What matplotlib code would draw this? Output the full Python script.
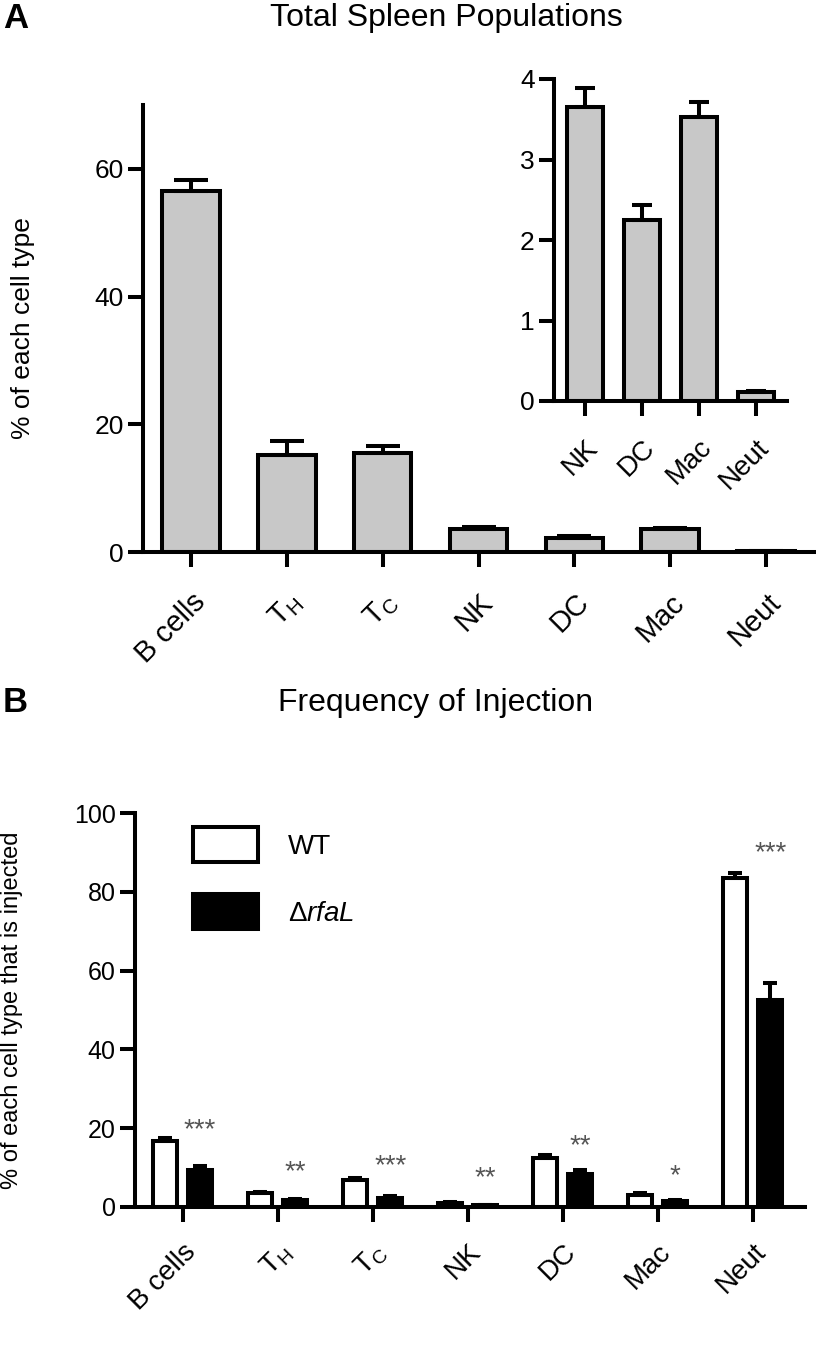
import numpy as np
import matplotlib
matplotlib.use("Agg")
import matplotlib.pyplot as plt
from matplotlib.patches import Patch

plt.rcParams['font.family'] = ['Liberation Sans', 'DejaVu Sans']
plt.rcParams['mathtext.fontset'] = 'custom'
plt.rcParams['mathtext.rm'] = 'Liberation Sans'
plt.rcParams['mathtext.it'] = 'Liberation Sans:italic'

# ---- data ----
cells = ['B cells', r'T$_\mathregular{H}$', r'T$_\mathregular{C}$', 'NK', 'DC', 'Mac', 'Neut']
spleen_pct = [56.5, 15.2, 15.5, 3.65, 2.25, 3.53, 0.11]
spleen_err = [1.8, 2.2, 1.1, 0.24, 0.18, 0.18, 0.02]

inset_cells = ['NK', 'DC', 'Mac', 'Neut']
inset_pct = [3.65, 2.25, 3.53, 0.11]
inset_err = [0.24, 0.18, 0.18, 0.02]

wt_inj = [16.8, 3.5, 6.8, 1.0, 12.5, 3.0, 83.5]
wt_err = [0.8, 0.4, 0.6, 0.2, 0.8, 0.6, 1.2]
ko_inj = [9.5, 1.7, 2.4, 0.4, 8.5, 1.5, 52.5]
ko_err = [0.9, 0.3, 0.3, 0.1, 1.0, 0.3, 4.3]
sig = ['***', '**', '***', '**', '**', '*', '***']
sig_y = [21.5, 11.0, 12.5, 9.4, 17.5, 10.0, 92.0]

W, H = 816, 1372
LW = 2.9
GREY = '#c8c8c8'


def box(l, t, r, b):
    return [l / W, 1 - b / H, (r - l) / W, (b - t) / H]


def style(ax, fs, xfs, xpad):
    for s in ['top', 'right']:
        ax.spines[s].set_visible(False)
    for s in ['left', 'bottom']:
        ax.spines[s].set_linewidth(LW)
    ax.tick_params(width=LW, length=11, labelsize=fs, pad=3)
    ax.tick_params(axis='x', pad=xpad, labelsize=xfs)


fig = plt.figure(figsize=(W / 100, H / 100), dpi=100)

# ---- panel A ----
axA = fig.add_axes(box(143, 105, 814, 552))
x = np.arange(len(cells))
axA.bar(x, spleen_pct, width=0.6, color=GREY, edgecolor='black', linewidth=LW,
        yerr=[np.zeros(len(x)), spleen_err],
        error_kw=dict(elinewidth=LW, capsize=12, capthick=LW, ecolor='black'))
axA.set_xlim(-0.5, 6.5)
axA.set_ylim(0, 70)
axA.set_yticks([0, 20, 40, 60])
axA.set_xticks(x)
axA.set_xticklabels(cells, rotation=45, ha='right', va='top', rotation_mode='anchor')
style(axA, 19, 21, 15)
axA.set_ylabel('% of each cell type', fontsize=19)
axA.yaxis.set_label_coords(-0.161, 0.5)

axI = fig.add_axes(box(554, 79, 787, 401))
xi = np.arange(len(inset_cells))
axI.bar(xi, inset_pct, width=0.63, color=GREY, edgecolor='black', linewidth=LW,
        yerr=[np.zeros(len(xi)), inset_err],
        error_kw=dict(elinewidth=LW, capsize=7, capthick=LW, ecolor='black'))
axI.set_xlim(-0.55, 3.55)
axI.set_ylim(0, 4)
axI.set_yticks([0, 1, 2, 3, 4])
axI.set_xticks(xi)
axI.set_xticklabels(inset_cells, rotation=45, ha='right', va='top', rotation_mode='anchor')
style(axI, 19, 20, 13)
axI.set_facecolor('none')

fig.text(3 / W, 1 - 28 / H, 'A', fontsize=25, weight='bold', va='baseline')
fig.text(446 / W, 1 - 26 / H, 'Total Spleen Populations', fontsize=23, ha='center', va='baseline')

# ---- panel B ----
axB = fig.add_axes(box(135, 813, 805, 1207))
off, bw = 0.185, 0.25
axB.bar(x - off, wt_inj, width=bw, color='white', edgecolor='black', linewidth=LW,
        yerr=[np.zeros(len(x)), wt_err],
        error_kw=dict(elinewidth=LW, capsize=5, capthick=LW, ecolor='black'))
axB.bar(x + off, ko_inj, width=bw, color='black', edgecolor='black', linewidth=LW,
        yerr=[np.zeros(len(x)), ko_err],
        error_kw=dict(elinewidth=LW, capsize=5, capthick=LW, ecolor='black'))
for i in range(len(x)):
    axB.annotate(sig[i], (x[i] + off, sig_y[i]), xytext=(0, -11), textcoords='offset points',
                 ha='center', va='baseline', fontsize=20, color='#555555')
axB.set_xlim(-0.5, 6.55)
axB.set_ylim(0, 100)
axB.set_yticks([0, 20, 40, 60, 80, 100])
axB.set_xticks(x)
axB.set_xticklabels(cells, rotation=45, ha='right', va='top', rotation_mode='anchor')
style(axB, 18, 20, 12)
axB.set_ylabel('% of each cell type that is injected', fontsize=17)
axB.yaxis.set_label_coords(-0.167, 0.5)

handles = [Patch(facecolor='white', edgecolor='black', linewidth=LW, label='WT'),
           Patch(facecolor='black', edgecolor='black', linewidth=LW, label=r'$\Delta\mathit{rfaL}$')]
axB.legend(handles=handles, loc='upper left', bbox_to_anchor=(0.0866, 0.964), frameon=False,
           fontsize=20, handlelength=2.34, handleheight=1.56, handletextpad=1.08,
           labelspacing=1.15, borderpad=0, borderaxespad=0)

fig.text(3 / W, 1 - 712 / H, 'B', fontsize=25, weight='bold', va='baseline')
fig.text(436 / W, 1 - 711 / H, 'Frequency of Injection', fontsize=23, ha='center', va='baseline')

fig.savefig('out.png', dpi=100)
